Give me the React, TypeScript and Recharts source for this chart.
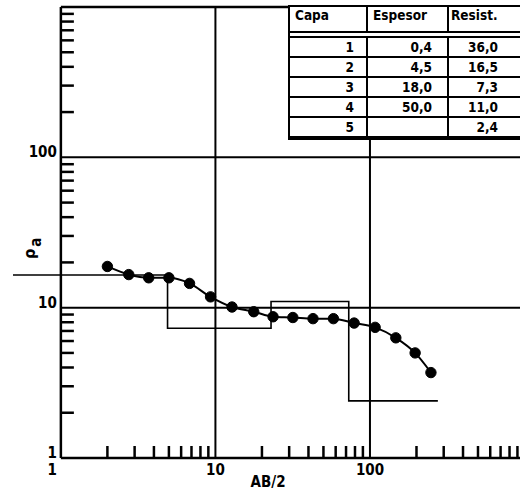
import { LineChart, Line, XAxis, YAxis, ReferenceLine } from 'recharts'

// sondeo electrico vertical: AB/2 (m) vs resistividad aparente (ohm.m)
const abHalf = [2, 2.75, 3.7, 5, 6.8, 9.3, 12.8, 17.7, 23.6, 31.7, 42.8, 58, 79, 108, 147, 196, 248]
const rhoA = [18.8, 16.6, 15.8, 15.8, 14.5, 11.8, 10.1, 9.4, 8.7, 8.6, 8.45, 8.45, 7.9, 7.4, 6.3, 5.0, 3.7]

// modelo de capas
const layerNo = ['1', '2', '3', '4', '5']
const thickness = [0.4, 4.5, 18.0, 50.0, null]
const resistivity = [36.0, 16.5, 7.3, 11.0, 2.4]
const modelStart = 0.2
const modelEnd = 275

const headers = ['Capa', 'Espesor', 'Resist.']
const majorTicks = [1, 10, 100]
const minorSteps = [1, 2, 3, 4, 5, 6, 7, 8, 9]

const X_MIN = 0.49
const X_MAX = 935
const Y_MIN = 1
const Y_MAX = 1000

const W = 520
const H = 491
const Y_AXIS_W = 1
const M_LEFT = 12
const M_TOP = 7
const X_AXIS_H = 33
const PLOT_LEFT = M_LEFT + Y_AXIS_W
const PLOT_BOTTOM = H - X_AXIS_H
const PLOT_W = W - PLOT_LEFT
// pixel position of x = 1 (where the vertical axis is drawn)
const AXIS_X = PLOT_LEFT + (PLOT_W * Math.log10(1 / X_MIN)) / Math.log10(X_MAX / X_MIN)

const FONT = '"Liberation Sans Narrow", "DejaVu Sans Condensed", "Liberation Sans", Arial, sans-serif'

const measured = abHalf.map((x, i) => ({ x, rho: rhoA[i] }))

const model: { x: number; rho: number }[] = []
let depth = 0
resistivity.forEach((r, i) => {
  const from = i === 0 ? modelStart : depth
  const t = thickness[i]
  const to = t == null ? modelEnd : depth + t
  model.push({ x: from, rho: r }, { x: to, rho: r })
  if (t != null) depth += t
})

const logTicks = majorTicks.flatMap(d => minorSteps.map(m => m * d))

const fmt = (v: number | null) => (v == null ? '' : v.toFixed(1).replace('.', ','))

function XTick(props: any) {
  const { x, payload } = props
  const v = payload.value as number
  if (majorTicks.includes(v)) {
    return (
      <text
        x={v === 1 ? x - 4 : x}
        y={PLOT_BOTTOM + 17}
        textAnchor={v === 1 ? 'end' : 'middle'}
        fontFamily={FONT}
        fontWeight={700}
        fontSize={15}
        fill="#000"
      >
        {v}
      </text>
    )
  }
  return <line x1={x} x2={x} y1={PLOT_BOTTOM} y2={PLOT_BOTTOM - 12} stroke="#000" strokeWidth={2.5} />
}

function YTick(props: any) {
  const { y, payload } = props
  const v = payload.value as number
  if (majorTicks.includes(v)) {
    return (
      <text x={AXIS_X - 4} y={y} textAnchor="end" fontFamily={FONT} fontWeight={700} fontSize={15} fill="#000">
        {v}
      </text>
    )
  }
  return <line x1={AXIS_X} x2={AXIS_X + 13} y1={y} y2={y} stroke="#000" strokeWidth={2.5} />
}

const rowCell = (w: number, pr: number, last = false) => ({
  width: w,
  boxSizing: 'border-box' as const,
  borderRight: last ? 'none' : '2px solid #000',
  textAlign: 'right' as const,
  paddingRight: pr,
})

export default function App() {
  return (
    <div style={{ position: 'absolute', left: 0, top: 0, width: W, height: H, overflow: 'hidden', background: '#fff' }}>
      <LineChart width={W} height={H} margin={{ top: M_TOP, right: 0, bottom: 0, left: M_LEFT }}>
        <XAxis
          type="number"
          dataKey="x"
          scale="log"
          domain={[X_MIN, X_MAX]}
          allowDataOverflow
          ticks={logTicks}
          interval={0}
          axisLine={false}
          tickLine={false}
          height={X_AXIS_H}
          tick={<XTick />}
          label={{
            content: () => (
              <text x={268} y={487} textAnchor="middle" fontFamily={FONT} fontWeight={700} fontSize={15} fill="#000">
                AB/2
              </text>
            ),
          }}
        />
        <YAxis
          type="number"
          dataKey="rho"
          scale="log"
          domain={[Y_MIN, Y_MAX]}
          allowDataOverflow
          ticks={logTicks}
          interval={0}
          axisLine={false}
          tickLine={false}
          width={Y_AXIS_W}
          tick={<YTick />}
          label={{
            content: () => (
              <text transform="translate(35,259) rotate(-90)" fontFamily={FONT} fontWeight={700} fontSize={16} fill="#000">
                ρ
                <tspan dx={2} dy={6} fontSize={15}>
                  a
                </tspan>
              </text>
            ),
          }}
        />

        {/* marco y rejilla */}
        <ReferenceLine x={1} stroke="#000" strokeWidth={2.5} />
        <ReferenceLine x={10} stroke="#000" strokeWidth={2} />
        <ReferenceLine x={100} stroke="#000" strokeWidth={2} />
        <ReferenceLine segment={[{ x: 1, y: Y_MIN }, { x: X_MAX, y: Y_MIN }]} stroke="#000" strokeWidth={2.5} />
        <ReferenceLine segment={[{ x: 1, y: 10 }, { x: X_MAX, y: 10 }]} stroke="#000" strokeWidth={2} />
        <ReferenceLine segment={[{ x: 1, y: 100 }, { x: X_MAX, y: 100 }]} stroke="#000" strokeWidth={2} />
        <ReferenceLine segment={[{ x: 1, y: Y_MAX }, { x: X_MAX, y: Y_MAX }]} stroke="#000" strokeWidth={2.5} />

        <Line
          data={model}
          dataKey="rho"
          type="linear"
          stroke="#000"
          strokeWidth={1.6}
          dot={false}
          isAnimationActive={false}
        />
        <Line
          data={measured}
          dataKey="rho"
          type="monotone"
          stroke="#000"
          strokeWidth={2}
          dot={{ r: 5.2, fill: '#000', stroke: '#000', strokeWidth: 1 }}
          isAnimationActive={false}
        />
      </LineChart>

      <div
        style={{
          position: 'absolute',
          left: 288,
          top: 5,
          width: 250,
          height: 135,
          background: '#fff',
          border: '2px solid #000',
          boxSizing: 'border-box',
          fontFamily: FONT,
          fontWeight: 700,
          fontSize: 13.5,
          color: '#000',
        }}
      >
        <div style={{ display: 'flex', height: 26, borderBottom: '2px solid #000', boxSizing: 'border-box' }}>
          {headers.map((h, i) => (
            <div
              key={h}
              style={{
                width: i === 0 ? 78 : i === 1 ? 81 : 87,
                boxSizing: 'border-box',
                borderRight: i < 2 ? '2px solid #000' : 'none',
                paddingLeft: i === 2 ? 2 : 5,
                lineHeight: '17px',
              }}
            >
              {h}
            </div>
          ))}
        </div>
        <div style={{ marginTop: 3, borderTop: '2px solid #000' }}>
          {layerNo.map((n, i) => (
            <div
              key={n}
              style={{ display: 'flex', height: 20, lineHeight: '18px', borderBottom: '2px solid #000', boxSizing: 'border-box' }}
            >
              <div style={rowCell(78, 12)}>{n}</div>
              <div style={rowCell(81, 15)}>{fmt(thickness[i])}</div>
              <div style={rowCell(87, 38, true)}>{fmt(resistivity[i])}</div>
            </div>
          ))}
        </div>
      </div>
    </div>
  )
}
